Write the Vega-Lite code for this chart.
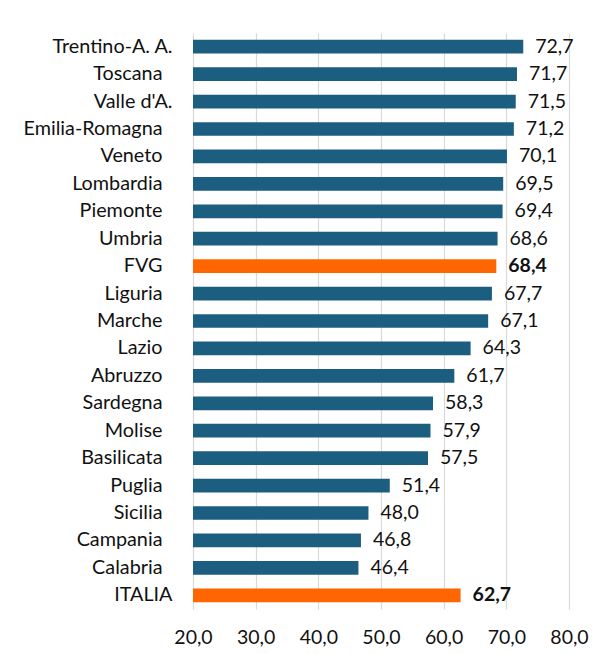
{
  "$schema": "https://vega.github.io/schema/vega-lite/v6.json",
  "width": 376,
  "height": 576,
  "autosize": {"type": "none"},
  "padding": {"left": 193, "top": 33, "right": 31, "bottom": 45},
  "background": "white",
  "config": {
    "view": {"stroke": null},
    "font": "Lato",
    "locale": {"number": {"decimal": ",", "thousands": ".", "grouping": [3], "currency": ["", " €"]}}
  },
  "data": {
    "values": [
      {"regione": "Trentino-A. A.", "valore": 72.7, "tipo": "regione"},
      {"regione": "Toscana", "valore": 71.7, "tipo": "regione"},
      {"regione": "Valle d'A.", "valore": 71.5, "tipo": "regione"},
      {"regione": "Emilia-Romagna", "valore": 71.2, "tipo": "regione"},
      {"regione": "Veneto", "valore": 70.1, "tipo": "regione"},
      {"regione": "Lombardia", "valore": 69.5, "tipo": "regione"},
      {"regione": "Piemonte", "valore": 69.4, "tipo": "regione"},
      {"regione": "Umbria", "valore": 68.6, "tipo": "regione"},
      {"regione": "FVG", "valore": 68.4, "tipo": "evidenza"},
      {"regione": "Liguria", "valore": 67.7, "tipo": "regione"},
      {"regione": "Marche", "valore": 67.1, "tipo": "regione"},
      {"regione": "Lazio", "valore": 64.3, "tipo": "regione"},
      {"regione": "Abruzzo", "valore": 61.7, "tipo": "regione"},
      {"regione": "Sardegna", "valore": 58.3, "tipo": "regione"},
      {"regione": "Molise", "valore": 57.9, "tipo": "regione"},
      {"regione": "Basilicata", "valore": 57.5, "tipo": "regione"},
      {"regione": "Puglia", "valore": 51.4, "tipo": "regione"},
      {"regione": "Sicilia", "valore": 48.0, "tipo": "regione"},
      {"regione": "Campania", "valore": 46.8, "tipo": "regione"},
      {"regione": "Calabria", "valore": 46.4, "tipo": "regione"},
      {"regione": "ITALIA", "valore": 62.7, "tipo": "evidenza"}
    ]
  },
  "encoding": {
    "x": {
      "field": "valore",
      "type": "quantitative",
      "scale": {"domain": [20, 80], "nice": false, "zero": false},
      "axis": {
        "title": null,
        "values": [20, 30, 40, 50, 60, 70, 80],
        "format": ".1f",
        "domain": false,
        "ticks": false,
        "grid": true,
        "gridColor": "#d9d9d9",
        "gridWidth": 1.2,
        "labelFlush": false,
        "labelPadding": 19,
        "labelFont": "Lato",
        "labelFontSize": 19.5,
        "labelColor": "#111111"
      }
    }
  },
  "layer": [
    {
      "mark": {"type": "bar"},
      "encoding": {
        "y": {
          "field": "regione",
          "type": "nominal",
          "sort": null,
          "scale": {"paddingInner": 0.5, "paddingOuter": 0.25},
          "axis": {
            "orient": "left",
            "title": null,
            "domain": false,
            "ticks": false,
            "labelPadding": 21,
            "labelFont": "Lato",
            "labelFontSize": 19.8,
            "labelColor": "#111111",
            "labelExpr": "indexof(['Trentino-A. A.', 'Valle d\\'A.', 'ITALIA'], datum.value) >= 0 ? datum.value : ''"
          }
        },
        "x2": {"datum": 20},
        "color": {
          "field": "tipo",
          "type": "nominal",
          "scale": {"domain": ["regione", "evidenza"], "range": ["#1b5e80", "#ff6600"]},
          "legend": null
        }
      }
    },
    {
      "transform": [{"filter": "datum.tipo === 'regione'"}],
      "mark": {"type": "text", "align": "left", "baseline": "middle", "dx": 12, "fontSize": 19.5, "font": "Lato", "color": "#111111"},
      "encoding": {
        "y": {
          "field": "regione",
          "type": "nominal",
          "sort": null,
          "axis": {
            "orient": "left",
            "title": null,
            "domain": false,
            "ticks": false,
            "grid": false,
            "labelPadding": 31,
            "labelFont": "Lato",
            "labelFontSize": 19.8,
            "labelColor": "#111111",
            "labelExpr": "indexof(['Trentino-A. A.', 'Valle d\\'A.', 'ITALIA'], datum.value) >= 0 ? '' : datum.value"
          }
        },
        "text": {"field": "valore", "type": "quantitative", "format": ".1f"}
      }
    },
    {
      "transform": [{"filter": "datum.tipo === 'evidenza'"}],
      "mark": {"type": "text", "align": "left", "baseline": "middle", "dx": 12, "fontSize": 19.5, "font": "Lato", "fontWeight": "bold", "color": "#111111"},
      "encoding": {
        "y": {"field": "regione", "type": "nominal", "sort": null, "axis": null},
        "text": {"field": "valore", "type": "quantitative", "format": ".1f"}
      }
    }
  ],
  "resolve": {"axis": {"y": "independent"}}
}
